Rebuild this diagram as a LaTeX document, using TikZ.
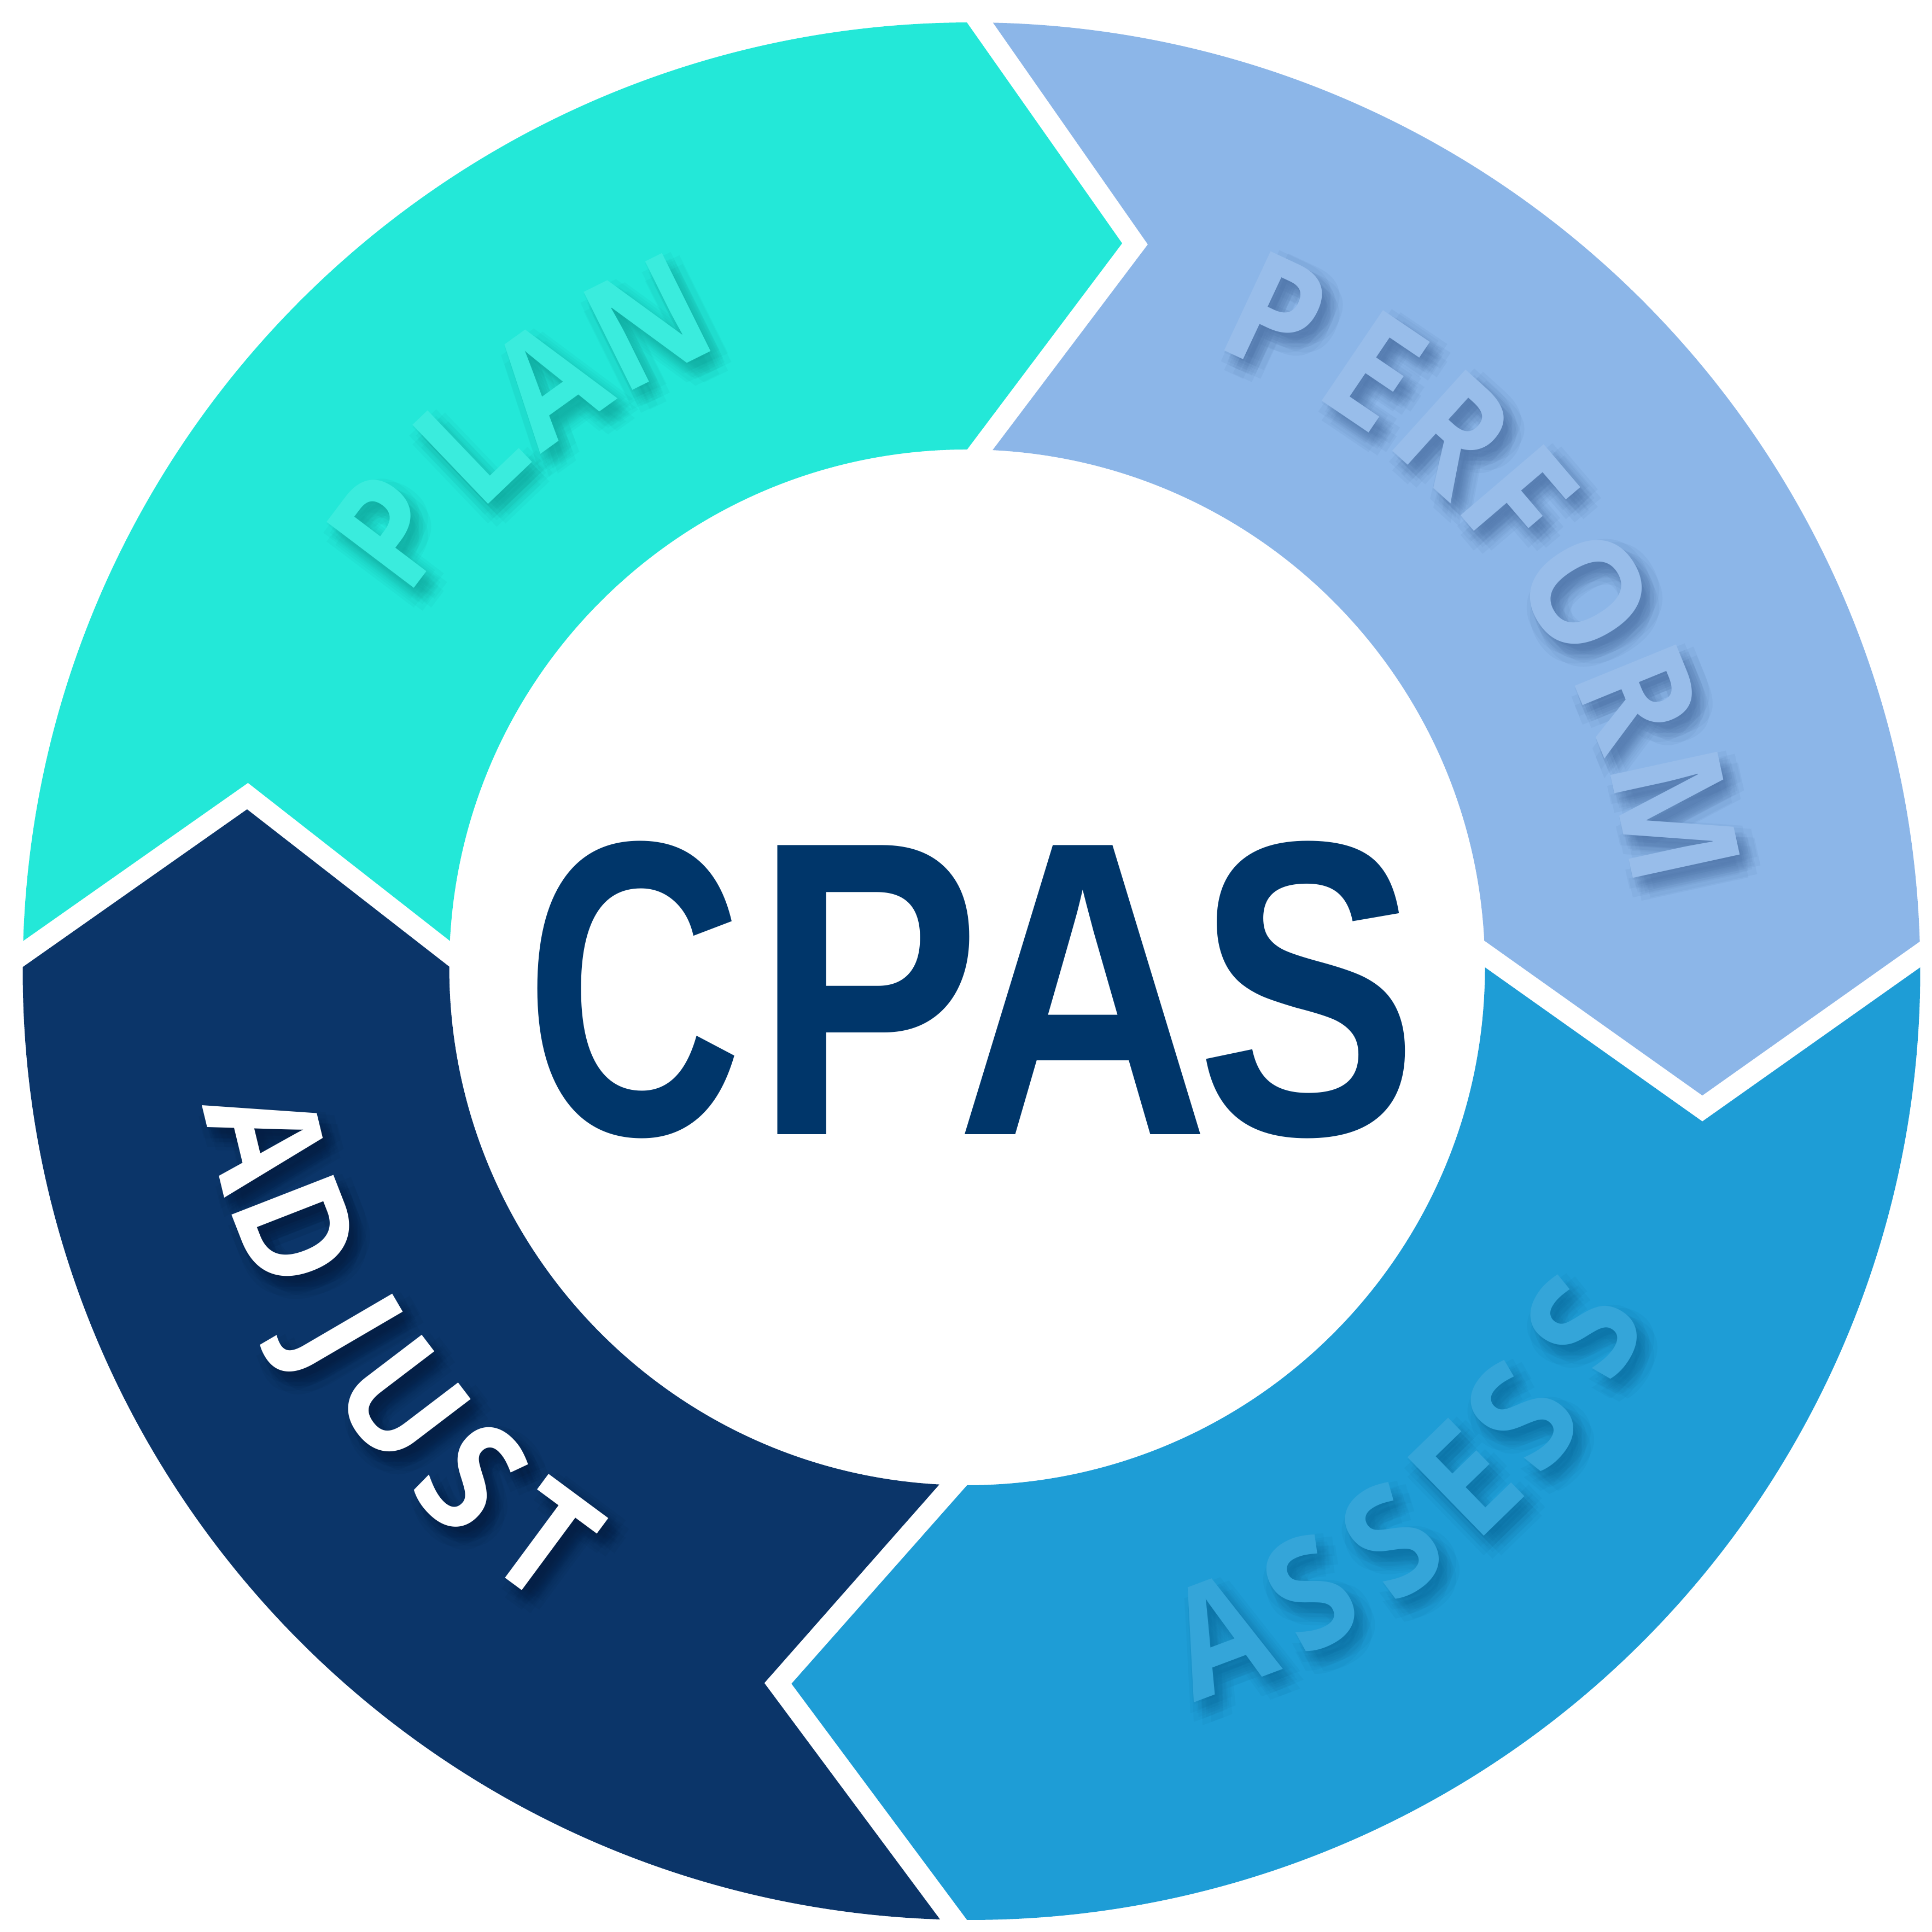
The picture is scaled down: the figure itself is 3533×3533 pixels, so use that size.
\documentclass[tikz,border=0pt]{standalone}
\usepackage{fontspec}
\setmainfont{Open Sans}
\newfontfamily\lblfont{Open Sans}
\newfontfamily\cpasfont{Liberation Sans}
\usetikzlibrary{calc}
\definecolor{planfill}{HTML}{23E8D8}
\definecolor{planlbl}{HTML}{3AECDD}
\definecolor{planshd}{HTML}{0E9C92}
\definecolor{perffill}{HTML}{8CB6E8}
\definecolor{perflbl}{HTML}{98BDEA}
\definecolor{perfshd}{HTML}{40659A}
\definecolor{assfill}{HTML}{1E9DD6}
\definecolor{asslbl}{HTML}{34A5D9}
\definecolor{assshd}{HTML}{0C6898}
\definecolor{adjfill}{HTML}{0B3569}
\definecolor{adjlbl}{HTML}{FFFFFF}
\definecolor{adjshd}{HTML}{04183A}
\definecolor{cpascol}{HTML}{00366A}
\newcommand{\shdoffsets}{16/-20,26/-20,6/-20,16/-10,16/-30,23/-13,9/-27,23/-27,9/-13,38/-20,-6/-20,16/2,16/-42,32/-4,0/-36,32/-36,0/-4}
\begin{document}
\begin{tikzpicture}[x=0.01cm,y=0.01cm,
  lbl/.style={font={\lblfont\bfseries\fontsize{79.7pt}{90pt}\selectfont}, inner sep=0pt, anchor=base},
  shd/.style={lbl, text opacity=0.065, opacity=0.065},
  cpasletter/.style={inner sep=0pt, anchor=base, text=cpascol,
     font={\cpasfont\bfseries\fontsize{218.5pt}{240pt}\selectfont}}]
\fill[white] (0,0) rectangle (3533,3533);
\useasboundingbox (0,0) rectangle (3533,3533);
\coordinate (Co) at (1776.5,1757);
\coordinate (Ci) at (1768.5,1764);
\coordinate (Ct) at (1772,1761);
\coordinate (plantip) at (2052,3088);
\coordinate (plannotch) at (453.5,2101.3);
\coordinate (perftip) at (3113,1529.7);
\coordinate (perfnotch) at (2099,3086);
\coordinate (asstip) at (1447.3,454);
\coordinate (assnotch) at (3113,1482.3);
\coordinate (adjtip) at (451.8,2053);
\coordinate (adjnotch) at (1397.7,455.3);
% segments
\fill[planfill] ($(Co)+(178.17:1735)$) arc[start angle=178.17, end angle=90.28, radius=1735] -- (plantip) -- ($(Ci)+(90:947)$) arc[start angle=90, end angle=177.07, radius=947] -- (plannotch) -- cycle;
\fill[perffill] ($(Co)+(88.70:1735)$) arc[start angle=88.70, end angle=1.79, radius=1735] -- (perftip) -- ($(Ci)+(2.96:947)$) arc[start angle=2.96, end angle=87.18, radius=947] -- (perfnotch) -- cycle;
\fill[assfill] ($(Co)+(0.23:1735)$) arc[start angle=0.23, end angle=-90.27, radius=1735] -- (asstip) -- ($(Ci)+(-90:947)$) arc[start angle=-90, end angle=0, radius=947] -- (assnotch) -- cycle;
\fill[adjfill] ($(Co)+(268.10:1735)$) arc[start angle=268.10, end angle=179.75, radius=1735] -- (adjtip) -- ($(Ci)+(179.92:947)$) arc[start angle=179.92, end angle=266.93, radius=947] -- (adjnotch) -- cycle;
% labels, top (reading clockwise, tops outward)
\foreach \a/\r/\c [count=\i] in {142.9/1230/P,133.7/1222/L,125.7/1222/A,116.4/1222/N}{
  \foreach \sx/\sy in \shdoffsets{
    \node[shd, text=planshd, rotate=\a-90, xscale=0.9] at ($(Ct)+(\a:\r)+(\sx,\sy)$) {\c};}
  \node[lbl, text=planlbl, rotate=\a-90, xscale=0.9] (plan\i) at ($(Ct)+(\a:\r)$) {\c};
}
\foreach \a/\r/\c [count=\i] in {64.9/1222/P,55.9/1222/E,47.9/1222/R,40.5/1222/F,31.4/1222/O,22.2/1222/R,12.3/1222/M}{
  \foreach \sx/\sy in \shdoffsets{
    \node[shd, text=perfshd, rotate=\a-90, xscale=0.9] at ($(Ct)+(\a:\r)+(\sx,\sy)$) {\c};}
  \node[lbl, text=perflbl, rotate=\a-90, xscale=0.9] (perf\i) at ($(Ct)+(\a:\r)$) {\c};
}
% labels, bottom (reading counter-clockwise, tops inward)
\foreach \a/\r/\c [count=\i] in {-69.4/1400/A,-61.35/1400/S,-53.5/1400/S,-45.8/1400/E,-38.9/1400/S,-30.2/1400/S}{
  \foreach \sx/\sy in \shdoffsets{
    \node[shd, text=assshd, rotate=\a+90, xscale=0.9] at ($(Ct)+(\a:\r)+(\sx,\sy)$) {\c};}
  \node[lbl, text=asslbl, rotate=\a+90, xscale=0.9] (ass\i) at ($(Ct)+(\a:\r)$) {\c};
}
\foreach \a/\r/\c [count=\i] in {193.6/1422/A,201.3/1420/D,210.3/1410/J,217.3/1402/U,225.6/1400/S,233.5/1400/T}{
  \foreach \sx/\sy in \shdoffsets{
    \node[shd, text=adjshd, rotate=\a+90, xscale=0.9] at ($(Ct)+(\a:\r)+(\sx,\sy)$) {\c};}
  \node[lbl, text=adjlbl, rotate=\a+90, xscale=0.9] (adj\i) at ($(Ct)+(\a:\r)$) {\c};
}
% centre title
\node[cpasletter, xscale=0.717] (cpasC) at (1159,1458) {C};
\node[cpasletter, xscale=0.807] (cpasP) at (1587,1458) {P};
\node[cpasletter, xscale=0.836] (cpasA) at (1980,1458) {A};
\node[cpasletter, xscale=0.790] (cpasS) at (2391,1458) {S};
\end{tikzpicture}
\end{document}
